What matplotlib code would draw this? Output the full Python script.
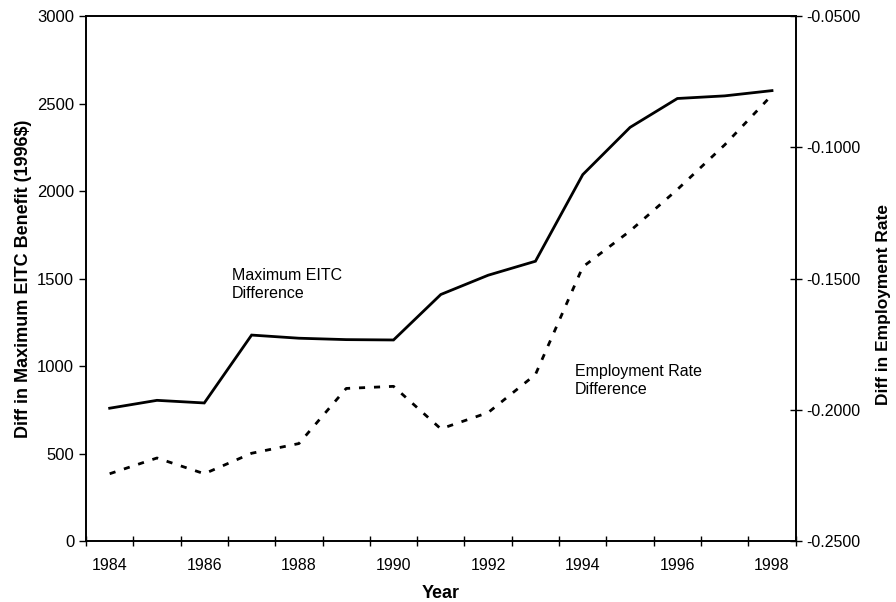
import matplotlib
matplotlib.use("Agg")
import matplotlib.pyplot as plt
import numpy as np

plt.rcParams['font.family'] = ['Liberation Sans', 'DejaVu Sans']

# data
years = [1984, 1985, 1986, 1987, 1988, 1989, 1990, 1991,
         1992, 1993, 1994, 1995, 1996, 1997, 1998]
max_eitc_diff = [760, 805, 790, 1178, 1160, 1152, 1150, 1410,
                 1520, 1600, 2095, 2365, 2530, 2545, 2575]
emp_rate_diff = [-0.2243, -0.2183, -0.2243, -0.2165, -0.2128, -0.1918, -0.1910, -0.2072,
                 -0.2010, -0.1865, -0.1455, -0.1318, -0.1160, -0.0990, -0.0800]

x = np.arange(len(years))

fig = plt.figure(figsize=(8.96, 6.02), dpi=100)
ax = fig.add_axes([0.096, 0.101, 0.792, 0.872])

ax.plot(x, max_eitc_diff, color='black', lw=2.0, solid_joinstyle='miter')
ax.set_ylim(0, 3000)
ax.set_xlim(-0.5, len(years) - 0.5)
ax.set_yticks(np.arange(0, 3001, 500))

# category axis: labels every 2nd year, tick marks between categories
ax.set_xticks(x[::2])
ax.set_xticklabels([str(y) for y in years[::2]])
ax.set_xticks(np.arange(-0.5, len(years), 1), minor=True)
ax.tick_params(axis='x', which='major', length=0, labelsize=11.5, pad=12)
ax.tick_params(axis='x', which='minor', direction='inout', length=7, width=1)
ax.tick_params(axis='y', direction='out', length=5, width=1, labelsize=12)

ax.set_xlabel('Year', fontsize=13, fontweight='bold', labelpad=9)
ax.set_ylabel('Diff in Maximum EITC Benefit (1996$)', fontsize=13, fontweight='bold', labelpad=4)

ax2 = ax.twinx()
ax2.plot(x, emp_rate_diff, color='black', lw=2.0, linestyle=(0, (2.2, 3.2)))
ax2.set_ylim(-0.25, -0.05)
ax2.set_yticks(np.arange(-0.25, -0.049, 0.05))
ax2.set_yticklabels(['%.4f' % v for v in np.arange(-0.25, -0.049, 0.05)])
ax2.tick_params(axis='y', direction='inout', length=8, width=1, labelsize=11.5)
ax2.set_ylabel('Diff in Employment Rate', fontsize=12.5, fontweight='bold', labelpad=11)
ax2.yaxis.label.set_y(0.45)

for s in ['left', 'right', 'top', 'bottom']:
    ax.spines[s].set_linewidth(1.2)
    ax2.spines[s].set_linewidth(1.2)

ax.text(2.58, 1560, 'Maximum EITC\nDifference', fontsize=11.5, va='top', ha='left', linespacing=1.2)
ax.text(9.84, 1010, 'Employment Rate\nDifference', fontsize=11.5, va='top', ha='left', linespacing=1.2)

fig.savefig('out.png', dpi=100)
